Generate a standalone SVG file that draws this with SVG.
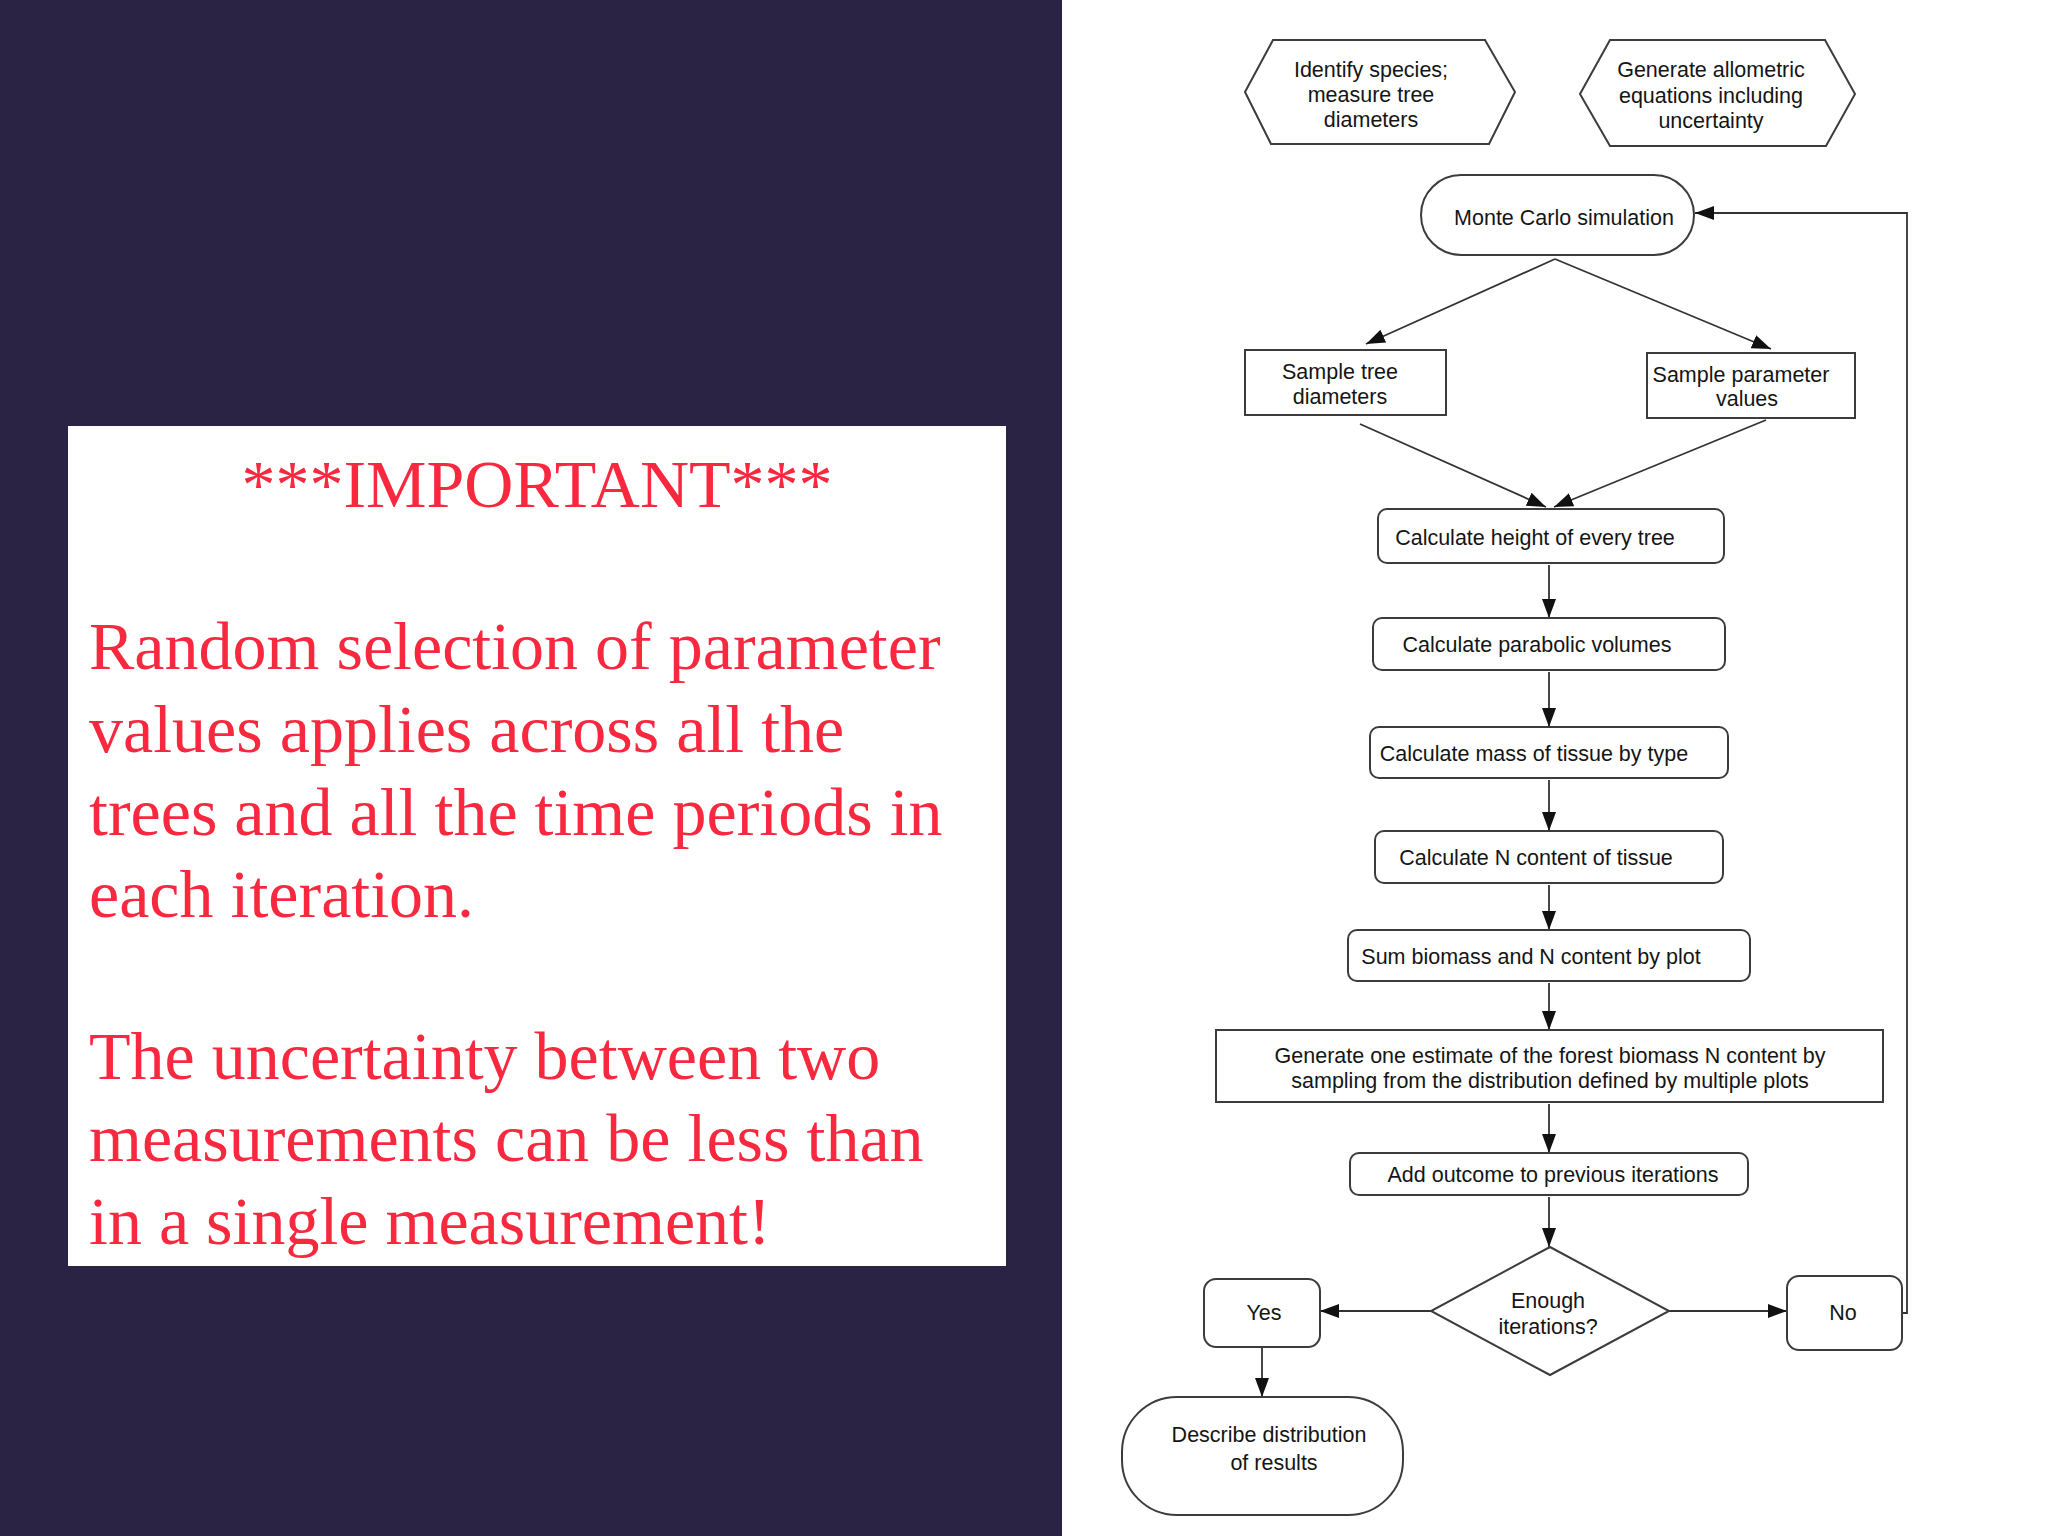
<svg xmlns="http://www.w3.org/2000/svg" width="2048" height="1536" viewBox="0 0 2048 1536">
<style>
.bg{fill:#2a2343}
.note{font-family:"Liberation Serif","Times New Roman",serif;font-size:68px;fill:#f8283e}
.nd{fill:#ffffff;stroke:#3c3c3c;stroke-width:2}
.t{font-family:"Liberation Sans",Arial,sans-serif;font-size:21.5px;fill:#151515;text-anchor:middle}
.cn{fill:none;stroke:#333333;stroke-width:1.8}
</style>
<defs>
<marker id="ah" markerUnits="userSpaceOnUse" markerWidth="20" markerHeight="16" refX="19" refY="7" orient="auto" viewBox="0 0 20 14">
<path d="M0,0 L19,7 L0,14 z" fill="#111111"/>
</marker>
</defs>
<rect x="0" y="0" width="2048" height="1536" fill="#ffffff"/>
<rect class="bg" x="0" y="0" width="1062" height="1536"/>
<g id="note">
<rect x="68" y="426" width="938" height="840" fill="#ffffff"/>
<text class="note" x="537" y="507" text-anchor="middle">***IMPORTANT***</text>
<text class="note" x="89" y="669">Random selection of parameter</text>
<text class="note" x="89" y="752">values applies across all the</text>
<text class="note" x="89" y="835">trees and all the time periods in</text>
<text class="note" x="89" y="917">each iteration.</text>
<text class="note" x="89" y="1079">The uncertainty between two</text>
<text class="note" x="89" y="1161">measurements can be less than</text>
<text class="note" x="89" y="1244">in a single measurement!</text>
</g>
<g id="connectors">
<line class="cn" x1="1555" y1="259" x2="1366" y2="344" marker-end="url(#ah)"/>
<line class="cn" x1="1555" y1="259" x2="1771" y2="349" marker-end="url(#ah)"/>
<line class="cn" x1="1360" y1="424" x2="1546" y2="507" marker-end="url(#ah)"/>
<line class="cn" x1="1766" y1="420" x2="1554" y2="507" marker-end="url(#ah)"/>
<line class="cn" x1="1549" y1="565" x2="1549" y2="618" marker-end="url(#ah)"/>
<line class="cn" x1="1549" y1="672" x2="1549" y2="727" marker-end="url(#ah)"/>
<line class="cn" x1="1549" y1="780" x2="1549" y2="831" marker-end="url(#ah)"/>
<line class="cn" x1="1549" y1="885" x2="1549" y2="930" marker-end="url(#ah)"/>
<line class="cn" x1="1549" y1="983" x2="1549" y2="1030" marker-end="url(#ah)"/>
<line class="cn" x1="1549" y1="1104" x2="1549" y2="1153" marker-end="url(#ah)"/>
<line class="cn" x1="1549" y1="1197" x2="1549" y2="1247" marker-end="url(#ah)"/>
<line class="cn" x1="1431" y1="1311" x2="1320" y2="1311" marker-end="url(#ah)"/>
<line class="cn" x1="1669" y1="1311" x2="1787" y2="1311" marker-end="url(#ah)"/>
<line class="cn" x1="1262" y1="1347" x2="1262" y2="1397" marker-end="url(#ah)"/>
<path class="cn" d="M1902,1313 H1907 V213 H1695" marker-end="url(#ah)"/>
</g>
<g id="n-identify">
<polygon class="nd" points="1245,92 1273,40 1485,40 1515,92 1489,144 1271,144"/>
<text class="t" x="1371" y="77">Identify species;</text>
<text class="t" x="1371" y="102">measure tree</text>
<text class="t" x="1371" y="127">diameters</text>
</g>
<g id="n-generate-allometric">
<polygon class="nd" points="1580,94 1610,40 1825,40 1855,94 1826,146 1610,146"/>
<text class="t" x="1711" y="77">Generate allometric</text>
<text class="t" x="1711" y="103">equations including</text>
<text class="t" x="1711" y="128">uncertainty</text>
</g>
<g id="n-monte-carlo">
<rect class="nd" x="1421" y="175" width="273" height="80" rx="40" ry="40"/>
<text class="t" x="1564" y="225">Monte Carlo simulation</text>
</g>
<g id="n-sample-tree">
<rect class="nd" x="1245" y="350" width="201" height="65"/>
<text class="t" x="1340" y="379">Sample tree</text>
<text class="t" x="1340" y="404">diameters</text>
</g>
<g id="n-sample-param">
<rect class="nd" x="1647" y="353" width="208" height="65"/>
<text class="t" x="1741" y="382">Sample parameter</text>
<text class="t" x="1747" y="406">values</text>
</g>
<g id="n-height">
<rect class="nd" x="1378" y="509" width="346" height="54" rx="9" ry="9"/>
<text class="t" x="1535" y="545">Calculate height of every tree</text>
</g>
<g id="n-parabolic">
<rect class="nd" x="1373" y="618" width="352" height="52" rx="9" ry="9"/>
<text class="t" x="1537" y="652">Calculate parabolic volumes</text>
</g>
<g id="n-mass">
<rect class="nd" x="1370" y="727" width="358" height="51" rx="9" ry="9"/>
<text class="t" x="1534" y="761">Calculate mass of tissue by type</text>
</g>
<g id="n-ncontent">
<rect class="nd" x="1375" y="831" width="348" height="52" rx="9" ry="9"/>
<text class="t" x="1536" y="865">Calculate N content of tissue</text>
</g>
<g id="n-sum">
<rect class="nd" x="1348" y="930" width="402" height="51" rx="9" ry="9"/>
<text class="t" x="1531" y="964">Sum biomass and N content by plot</text>
</g>
<g id="n-estimate">
<rect class="nd" x="1216" y="1030" width="667" height="72"/>
<text class="t" x="1550" y="1063">Generate one estimate of the forest biomass N content by</text>
<text class="t" x="1550" y="1088">sampling from the distribution defined by multiple plots</text>
</g>
<g id="n-add">
<rect class="nd" x="1350" y="1153" width="398" height="42" rx="9" ry="9"/>
<text class="t" x="1553" y="1182">Add outcome to previous iterations</text>
</g>
<g id="n-decision">
<polygon class="nd" points="1550,1247 1669,1311 1550,1375 1431,1311"/>
<text class="t" x="1548" y="1308">Enough</text>
<text class="t" x="1548" y="1334">iterations?</text>
</g>
<g id="n-yes">
<rect class="nd" x="1204" y="1279" width="116" height="68" rx="12" ry="12"/>
<text class="t" x="1264" y="1320">Yes</text>
</g>
<g id="n-no">
<rect class="nd" x="1787" y="1276" width="115" height="74" rx="12" ry="12"/>
<text class="t" x="1843" y="1320">No</text>
</g>
<g id="n-describe">
<rect class="nd" x="1122" y="1397" width="281" height="118" rx="55" ry="55"/>
<text class="t" x="1269" y="1442">Describe distribution</text>
<text class="t" x="1274" y="1470">of results</text>
</g>
</svg>
